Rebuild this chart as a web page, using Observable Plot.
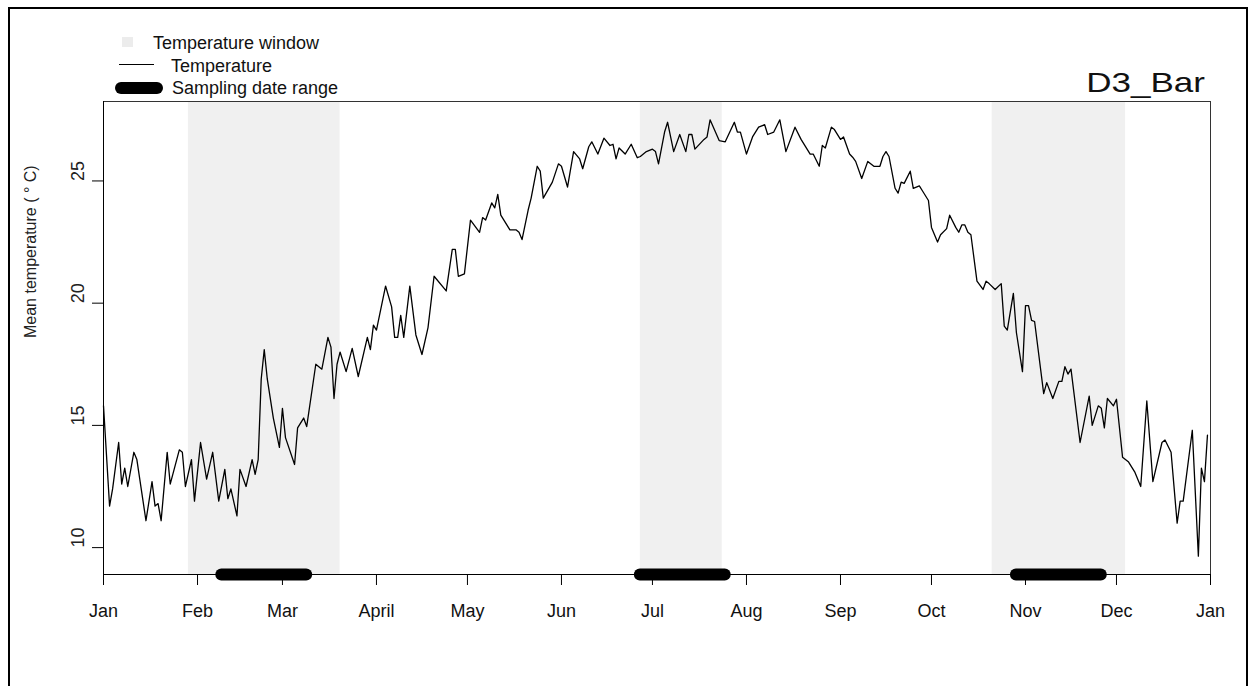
<!DOCTYPE html>
<html>
<head>
<meta charset="utf-8">
<script src="https://cdn.jsdelivr.net/npm/d3@7"></script>
<script src="https://cdn.jsdelivr.net/npm/@observablehq/plot@0.6"></script>
<style>
  html, body { margin: 0; padding: 0; background: #fff; overflow: hidden; }
  #wrap { position: relative; width: 1257px; height: 686px; font-family: "Liberation Sans", Arial, sans-serif; }
  #border { position: absolute; left: 8px; top: 7px; width: 1240px; height: 720px; box-sizing: border-box; border: 2px solid #000; pointer-events: none; }
  .lg { position: absolute; font-size: 18px; line-height: 18px; color: #111; white-space: nowrap; }
  #title { position: absolute; right: 52px; top: 69px; font-size: 28px; line-height: 28px; color: #111; transform: scaleX(1.25); transform-origin: right center; white-space: nowrap; }
</style>
</head>
<body>
<div id="wrap">
  <div id="chart"></div>
  <div id="border"></div>
  <div style="position:absolute;left:122px;top:37px;width:11px;height:10px;background:#ececec"></div>
  <div class="lg" style="left:153px;top:34px">Temperature window</div>
  <div style="position:absolute;left:119px;top:64px;width:35px;height:1.3px;background:#000"></div>
  <div class="lg" style="left:171px;top:57px">Temperature</div>
  <div style="position:absolute;left:115px;top:82px;width:48px;height:12px;border-radius:6px;background:#000"></div>
  <div class="lg" style="left:172px;top:79px">Sampling date range</div>
  <div id="title">D3_Bar</div>
</div>
<script>
// ---- data ----
const year = 2019;
// day-of-year offsets (0 = Jan 1) and daily mean temperature values
const tempDays = [
  0,2,3,5,6,7,8,10,11,14,
  16,17,18,19,21,22,25,26,27,29,
  30,32,34,36,38,40,41,42,44,45,
  47,49,50,51,52,53,54,56,58,59,
  60,63,64,66,67,70,72,74,75,76,
  77,78,80,82,84,87,88,89,90,93,
  95,96,97,98,99,101,103,105,107,109,
  113,115,116,117,119,121,124,125,126,128,
  129,130,131,134,136,137,138,140,141,143,
  144,145,148,150,151,153,155,157,158,160,
  161,163,165,167,168,169,170,172,174,176,
  177,179,181,182,183,185,186,188,190,192,
  193,194,195,198,199,200,203,205,208,209,
  210,212,214,216,218,219,221,223,225,228,
  230,233,234,236,237,238,240,241,243,244,
  246,247,248,250,252,254,256,257,258,259,
  261,262,263,264,266,267,269,270,272,273,
  275,276,278,279,281,282,283,284,285,286,
  288,290,291,292,294,296,297,298,300,301,
  303,304,305,306,307,310,311,313,315,316,
  317,318,319,322,325,326,328,329,330,331,
  333,334,336,338,340,342,344,346,349,350,
  352,354,355,356,359,361,362,363,364
];
const tempValues = [
  15.8,11.7,12.4,14.3,12.6,13.25,12.5,13.9,13.6,11.1,
  12.7,11.7,11.8,11.1,13.9,12.6,14.0,13.9,12.5,13.6,
  11.9,14.3,12.8,13.9,11.9,13.2,12.0,12.4,11.3,13.2,
  12.5,13.6,13.0,13.6,16.9,18.1,16.9,15.3,14.1,15.7,
  14.5,13.4,14.9,15.3,14.95,17.5,17.3,18.6,18.2,16.1,
  17.5,18.0,17.2,18.15,17.0,18.6,18.1,19.1,18.9,20.7,
  19.85,18.6,18.6,19.5,18.6,20.7,18.7,17.9,19.0,21.1,
  20.5,22.2,22.2,21.1,21.2,23.4,22.9,23.5,23.4,24.1,
  23.9,24.45,23.6,23.0,23.0,22.9,22.6,23.8,24.3,25.6,
  25.4,24.3,24.95,25.7,25.6,24.75,26.2,25.9,25.5,26.4,
  26.6,26.1,26.75,26.45,26.5,25.9,26.35,26.1,26.5,25.95,
  26.0,26.2,26.3,26.2,25.7,27.0,27.4,26.2,26.9,26.2,
  26.9,26.9,26.3,26.7,26.8,27.5,26.65,26.6,27.4,27.0,
  27.0,26.1,26.8,27.2,27.3,26.9,27.0,27.5,26.2,27.2,
  26.7,26.1,26.1,25.6,26.45,26.35,27.2,27.1,26.7,26.8,
  26.1,25.97,25.8,25.1,25.8,25.6,25.6,26.0,26.2,26.0,
  24.7,24.5,24.95,24.9,25.4,24.7,24.8,24.6,24.2,23.1,
  22.5,22.8,23.05,23.6,23.1,22.9,23.2,23.2,22.9,22.8,
  20.9,20.56,20.9,20.8,20.56,20.8,19.06,18.9,20.4,18.8,
  17.2,19.9,19.9,19.3,19.25,16.3,16.75,16.1,16.8,16.8,
  17.4,17.1,17.3,14.3,16.2,15.0,15.8,15.7,14.9,16.1,
  15.8,16.07,13.7,13.5,13.1,12.5,16.0,12.7,14.3,14.4,
  13.9,11.0,11.9,11.9,14.8,9.65,13.25,12.7,14.6
];
// temperature windows (shaded)
const windowStart = ["2019-01-29", "2019-06-27", "2019-10-21"];
const windowEnd   = ["2019-03-20", "2019-07-24", "2019-12-04"];
// sampling date ranges (thick bars)
const sampleStart = ["2019-02-09", "2019-06-27", "2019-10-29"];
const sampleEnd   = ["2019-03-09", "2019-07-25", "2019-11-26"];
// axis ticks
const monthTicks = ["2019-01-01","2019-02-01","2019-03-01","2019-04-01","2019-05-01","2019-06-01",
                    "2019-07-01","2019-08-01","2019-09-01","2019-10-01","2019-11-01","2019-12-01","2020-01-01"];
const monthLabels = ["Jan","Feb","Mar","April","May","Jun","Jul","Aug","Sep","Oct","Nov","Dec","Jan"];
const yTicks = [10, 15, 20, 25];
const yDomain = [8.9, 28.25];
const yLabel = "Mean temperature ( \u00b0 C)";

// ---- build ----
const start = new Date(Date.UTC(year, 0, 1));
const temps = tempDays.map((d, i) => ({date: d3.utcDay.offset(start, d), value: tempValues[i]}));
const windows = windowStart.map((s, i) => ({start: new Date(s), end: new Date(windowEnd[i])}));
const samples = sampleStart.map((s, i) => ({start: new Date(s), end: new Date(sampleEnd[i])}));
const tickDates = monthTicks.map(d => new Date(d));
const labelByTime = new Map(tickDates.map((d, i) => [+d, monthLabels[i]]));

const chart = Plot.plot({
  width: 1257,
  height: 686,
  marginLeft: 103,
  marginRight: 47,
  marginTop: 101,
  marginBottom: 112,
  style: {fontFamily: "Liberation Sans, Arial, sans-serif", color: "#111", background: "transparent"},
  x: {type: "utc", domain: [tickDates[0], tickDates[tickDates.length - 1]]},
  y: {domain: yDomain},
  marks: [
    Plot.rect(windows, {x1: "start", x2: "end", fill: "#f0f0f0"}),
    Plot.frame({stroke: "#333", strokeWidth: 1}),
    Plot.line(temps, {x: "date", y: "value", stroke: "#000", strokeWidth: 1.3}),
    Plot.axisX({ticks: tickDates, tickFormat: d => labelByTime.get(+d), tickSize: 11, tickPadding: 19, fontSize: 18, label: null, stroke: "#000"}),
    Plot.axisY({ticks: yTicks, tickFormat: () => "", tickSize: 11, label: null, stroke: "#000"}),
    Plot.ruleX([tickDates[0]], {stroke: "#000"}),
    Plot.ruleY([yDomain[0]], {stroke: "#000"}),
    Plot.text(yTicks, {y: d => d, text: d => String(d), frameAnchor: "left", dx: -25, rotate: -90, fontSize: 18, fill: "#222"}),
    Plot.text([yLabel], {text: d => d, frameAnchor: "left", dx: -73, rotate: -90, fontSize: 16, fill: "#222"}),
    Plot.ruleY(samples, {y: () => yDomain[0], x1: "start", x2: "end", stroke: "#000", strokeWidth: 12, strokeLinecap: "round"})
  ]
});
document.getElementById("chart").appendChild(chart);
</script>
</body>
</html>
